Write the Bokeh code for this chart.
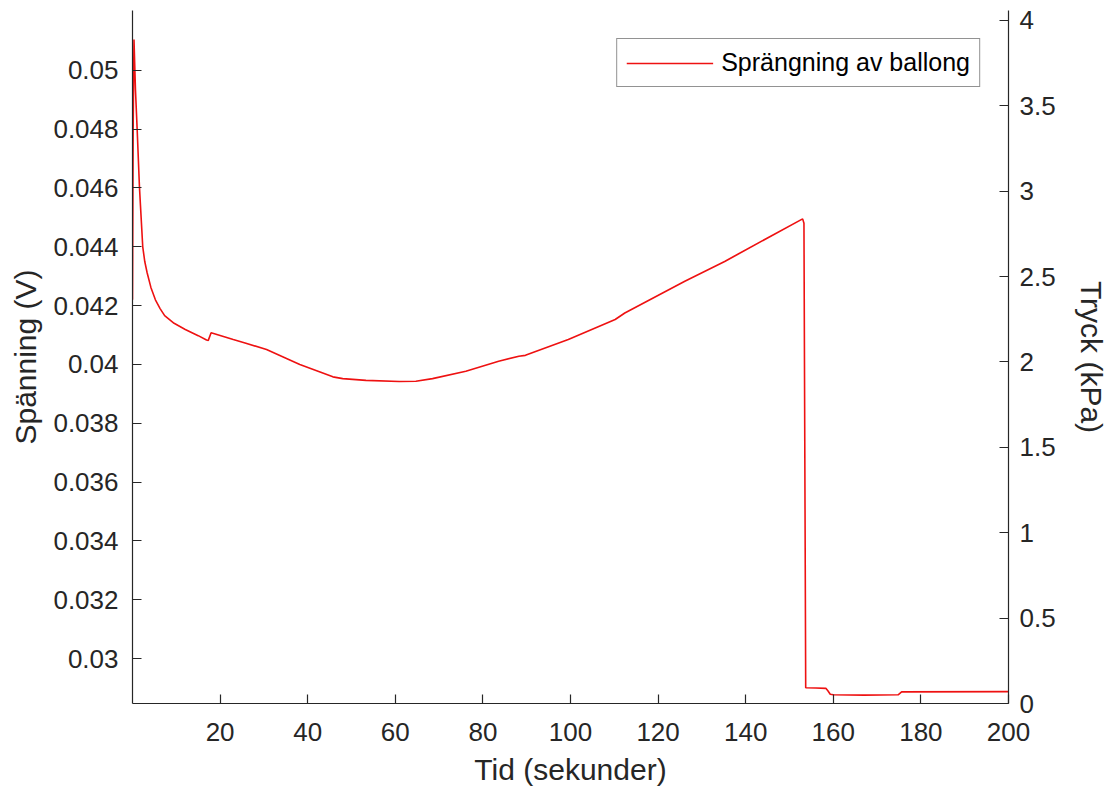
from bokeh.plotting import figure
from bokeh.models import Range1d, LinearAxis, FixedTicker, Legend, LegendItem
from bokeh.embed import file_html
from bokeh.resources import INLINE

# time (s) and voltage (V)
tid = [0.0, 0.15, 0.34, 0.68, 1.07, 1.59, 1.82, 2.34, 2.8, 3.34, 4.2, 5.23, 6.3, 7.34,
       9.5, 12.05, 15.0, 16.9, 17.3, 17.95, 23.0, 25.7, 30.6, 38.2, 45.75, 48.0, 53.3,
       60.9, 64.7, 68.5, 76.1, 83.6, 88.2, 89.7, 99.5, 110.2, 112.4, 126.1, 135.2,
       138.2, 153.0, 153.3, 153.7, 156.0, 158.3, 158.8, 159.3, 160.0, 167.0, 174.8,
       175.6, 200.0]
spanning = [0.04220, 0.04800, 0.05105, 0.04932, 0.04797, 0.04603, 0.04540, 0.04400,
            0.04350, 0.04312, 0.04262, 0.04220, 0.04190, 0.04166, 0.04140, 0.04119,
            0.04098, 0.04083, 0.04082, 0.04108, 0.04085, 0.04073, 0.04051, 0.04000,
            0.03958, 0.03952, 0.03946, 0.03942, 0.03943, 0.03952, 0.03977, 0.04011,
            0.04028, 0.04031, 0.04085, 0.04153, 0.04175, 0.04283, 0.04350, 0.04375,
            0.04495, 0.04480, 0.02901, 0.02900, 0.02899, 0.02890, 0.02879, 0.02877,
            0.02876, 0.02877, 0.02887, 0.02888]

x_ticks = [20, 40, 60, 80, 100, 120, 140, 160, 180, 200]
v_ticks = [0.03, 0.032, 0.034, 0.036, 0.038, 0.04, 0.042, 0.044, 0.046, 0.048, 0.05]
v_labels = ["0.03", "0.032", "0.034", "0.036", "0.038", "0.04", "0.042", "0.044",
            "0.046", "0.048", "0.05"]
p_ticks = [0, 0.5, 1, 1.5, 2, 2.5, 3, 3.5, 4]
p_labels = ["0", "0.5", "1", "1.5", "2", "2.5", "3", "3.5", "4"]

FONT = "Liberation Sans"
DARK = "#262626"

p = figure(width=1110, height=788, output_backend="svg", toolbar_location=None,
           x_range=Range1d(0, 200), y_range=Range1d(0.028475, 0.052034),
           min_border_left=132, min_border_right=98, min_border_top=10,
           min_border_bottom=83)
p.extra_y_ranges = {"tryck": Range1d(0, 4.0584)}
p.outline_line_color = None
p.xgrid.visible = False
p.ygrid.visible = False
p.background_fill_color = "white"

line = p.line(tid, spanning, line_color="#ee1111", line_width=1.6)

def style(ax, label):
    ax.axis_label = label
    ax.axis_label_text_font = FONT
    ax.axis_label_text_font_size = "30px"
    ax.axis_label_text_font_style = "normal"
    ax.axis_label_text_color = DARK
    ax.major_label_text_font = FONT
    ax.major_label_text_font_size = "26px"
    ax.major_label_text_color = DARK
    ax.axis_line_color = DARK
    ax.axis_line_width = 1.2
    ax.major_tick_line_color = DARK
    ax.major_tick_line_width = 1.2
    ax.major_tick_in = 9
    ax.major_tick_out = 0
    ax.minor_tick_line_color = None

xa = p.xaxis[0]
style(xa, "Tid (sekunder)")
xa.ticker = FixedTicker(ticks=x_ticks)
xa.major_label_standoff = 19
xa.axis_label_standoff = 9

ya = p.yaxis[0]
style(ya, "Spänning (V)")
ya.ticker = FixedTicker(ticks=v_ticks)
ya.major_label_overrides = dict(zip(v_ticks, v_labels))
ya.major_label_standoff = 14
ya.axis_label_standoff = 8

ra = LinearAxis(y_range_name="tryck")
style(ra, "Tryck (kPa)")
ra.ticker = FixedTicker(ticks=p_ticks)
ra.major_label_overrides = dict(zip(p_ticks, p_labels))
ra.major_label_standoff = 11
ra.axis_label_standoff = 16
p.add_layout(ra, "right")

legend = Legend(items=[LegendItem(label="Sprängning av ballong", renderers=[line])],
                location="top_right")
legend.margin = 28
legend.padding = 9
legend.spacing = 0
legend.glyph_width = 87
legend.label_standoff = 8
legend.label_text_font = FONT
legend.label_text_font_size = "25px"
legend.label_text_color = "black"
legend.border_line_color = DARK
legend.border_line_width = 1.2
legend.background_fill_alpha = 1
p.add_layout(legend, "center")

open("out.html", "w").write(file_html(p, INLINE))
